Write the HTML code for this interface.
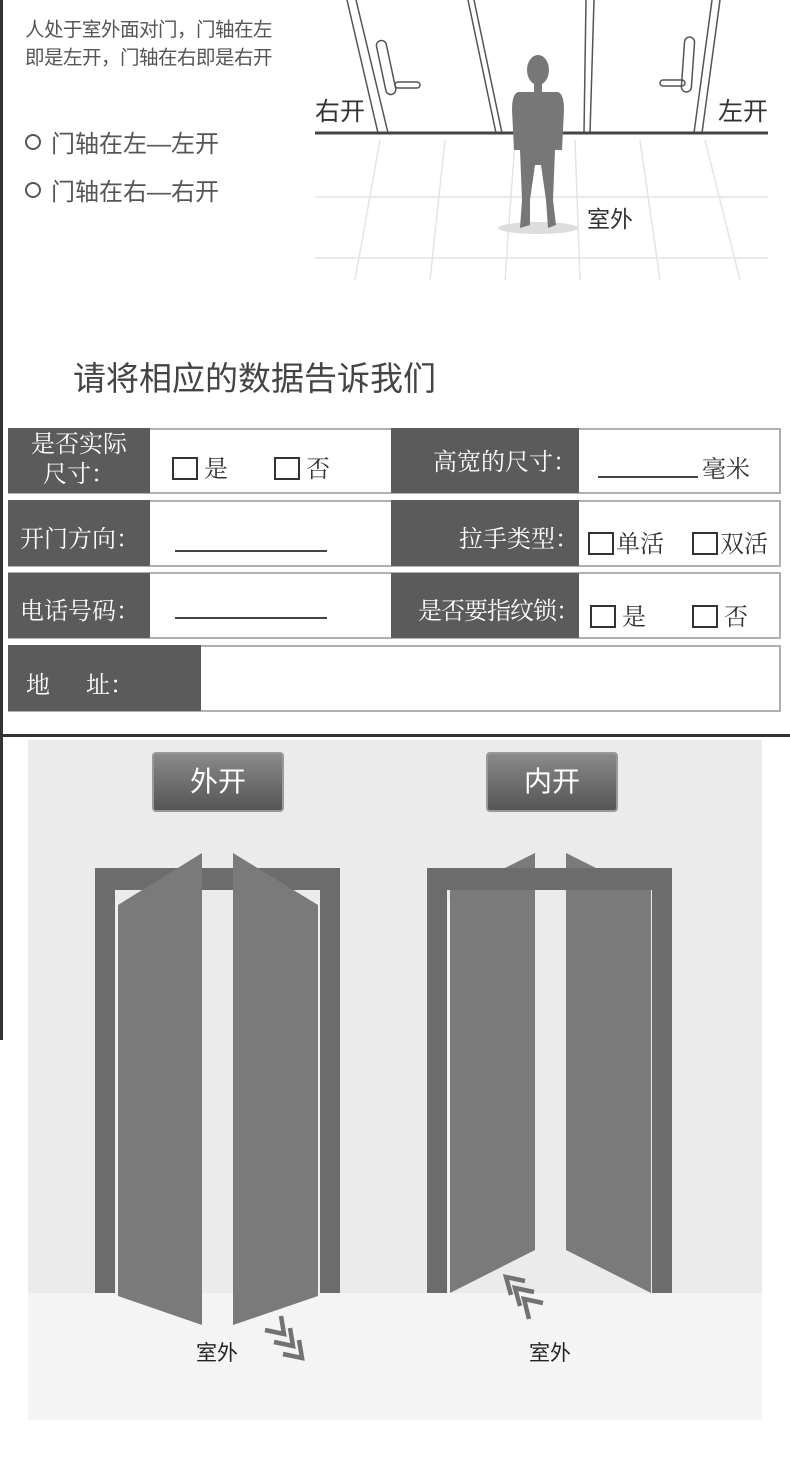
<!DOCTYPE html>
<html><head><meta charset="utf-8"><style>
body{margin:0;width:790px;height:1464px;position:relative;background:#fff;overflow:hidden;font-family:"Liberation Sans","Noto Sans CJK SC",sans-serif}
.a{position:absolute;white-space:nowrap}
.d{position:absolute;background:#5b5b5b;color:#fff;font-family:"Liberation Serif","Noto Serif CJK SC",serif;font-size:24px}
.w{position:absolute;background:#fff;border:2px solid #b0b0b0;box-sizing:border-box}
.s{font-family:"Liberation Serif","Noto Serif CJK SC",serif;font-size:24px;color:#333}
.cb{display:inline-block;width:26px;height:23px;border:2px solid #333;box-sizing:border-box;vertical-align:-3px;margin-right:6px}
.ln{position:absolute;height:2px;background:#444}
</style></head><body>
<div class="a" style="left:0;top:0;width:3px;height:1040px;background:#333"></div>
<div class="a" style="left:25px;top:16px;font-size:19.5px;color:#555;line-height:28px;letter-spacing:-0.5px">人处于室外面对门，门轴在左<br>即是左开，门轴在右即是右开</div>
<div class="a" style="left:25px;top:124px;font-size:24px;color:#555"><span style="display:inline-block;width:12px;height:12px;border:2px solid #555;border-radius:50%;margin-right:10px;vertical-align:2px"></span>门轴在左—左开</div>
<div class="a" style="left:25px;top:172px;font-size:24px;color:#555"><span style="display:inline-block;width:12px;height:12px;border:2px solid #555;border-radius:50%;margin-right:10px;vertical-align:2px"></span>门轴在右—右开</div>
<svg class="a" style="left:0;top:0" width="790" height="300">
<g stroke="#e4e4e4" stroke-width="1.5" fill="none">
<line x1="380" y1="140" x2="355" y2="280"/><line x1="445" y1="140" x2="430" y2="280"/><line x1="515" y1="140" x2="505" y2="280"/><line x1="575" y1="140" x2="580" y2="280"/><line x1="640" y1="140" x2="660" y2="280"/><line x1="705" y1="140" x2="740" y2="280"/>
<line x1="315" y1="197" x2="768" y2="197"/><line x1="315" y1="258" x2="768" y2="258"/></g>
<g stroke="#555" stroke-width="1.5" fill="none">
<line x1="347" y1="0" x2="378" y2="133"/><line x1="356" y1="0" x2="388" y2="133"/>
<line x1="468" y1="0" x2="496" y2="133"/><line x1="474" y1="0" x2="502" y2="133"/>
<line x1="586" y1="0" x2="584" y2="133"/><line x1="594" y1="0" x2="590" y2="133"/>
<line x1="712" y1="0" x2="694" y2="133"/><line x1="720" y1="0" x2="702" y2="133"/>
<rect x="381" y="40" width="10" height="55" rx="5" transform="rotate(-12 386 67)"/><rect x="395" y="82" width="25" height="6" rx="3"/>
<rect x="683" y="37" width="10" height="55" rx="5" transform="rotate(4 688 64)"/><rect x="660" y="80" width="25" height="6" rx="3"/></g>
<line x1="315" y1="133" x2="768" y2="133" stroke="#444" stroke-width="3"/>
<ellipse cx="538" cy="228" rx="40" ry="6" fill="#ddd"/>
<g fill="#777"><ellipse cx="538" cy="70" rx="11" ry="15"/><rect x="534" y="80" width="8" height="12"/>
<path d="M518 92 L558 92 Q564 94 564 110 L562 150 L555 150 L553 200 L556 225 L548 228 L546 200 L541 165 L535 165 L530 200 L530 225 L520 228 L522 200 L520 150 L514 150 L512 110 Q512 94 518 92Z"/></g>
</svg>
<div class="a" style="left:315px;top:92px;font-size:25px;color:#333">右开</div>
<div class="a" style="left:718px;top:92px;font-size:25px;color:#333">左开</div>
<div class="a" style="left:587px;top:200px;font-size:23px;color:#333">室外</div>
<div class="a" style="left:73px;top:352px;font-size:33px;color:#444">请将相应的数据告诉我们</div>

<div class="w" style="left:8px;top:428px;width:773px;height:66px"></div>
<div class="w" style="left:8px;top:500px;width:773px;height:67px"></div>
<div class="w" style="left:8px;top:572px;width:773px;height:67px"></div>
<div class="w" style="left:8px;top:645px;width:773px;height:67px"></div>
<div class="d" style="left:8px;top:428px;width:142px;height:65px;text-align:center;line-height:30px;padding-top:2px;box-sizing:border-box">是否实际<br>尺寸：</div>
<div class="d" style="left:391px;top:428px;width:188px;height:65px;line-height:70px;text-align:right;padding-right:2px;box-sizing:border-box">高宽的尺寸：</div>
<div class="d" style="left:8px;top:500px;width:142px;height:66px;line-height:80px;padding-left:12px;box-sizing:border-box">开门方向：</div>
<div class="d" style="left:391px;top:500px;width:188px;height:66px;line-height:80px;text-align:right;padding-right:0;box-sizing:border-box">拉手类型：</div>
<div class="d" style="left:8px;top:573px;width:142px;height:65px;line-height:78px;padding-left:12px;box-sizing:border-box">电话号码：</div>
<div class="d" style="left:391px;top:573px;width:188px;height:65px;line-height:78px;text-align:right;padding-right:0;box-sizing:border-box;letter-spacing:-1px">是否要指纹锁：</div>
<div class="d" style="left:8px;top:645px;width:193px;height:66px;line-height:82px;padding-left:18px;box-sizing:border-box">地&nbsp;&nbsp;&nbsp;&nbsp;&nbsp;&nbsp;址：</div>
<div class="a s" style="left:172px;top:449px"><span class="cb"></span>是</div>
<div class="a s" style="left:274px;top:449px"><span class="cb"></span>否</div>
<div class="ln" style="left:598px;top:476px;width:100px"></div>
<div class="a s" style="left:702px;top:449px">毫米</div>
<div class="ln" style="left:175px;top:550px;width:152px"></div>
<div class="a s" style="left:588px;top:524px"><span class="cb" style="margin-right:2px"></span>单活</div>
<div class="a s" style="left:692px;top:524px"><span class="cb" style="margin-right:2px"></span>双活</div>
<div class="ln" style="left:175px;top:617px;width:152px"></div>
<div class="a s" style="left:590px;top:597px"><span class="cb"></span>是</div>
<div class="a s" style="left:692px;top:597px"><span class="cb"></span>否</div>
<div class="a" style="left:0;top:734px;width:790px;height:3px;background:#333"></div>

<div class="a" style="left:28px;top:740px;width:734px;height:555px;background:#ebebeb"></div>
<div class="a" style="left:28px;top:1293px;width:734px;height:127px;background:#f4f4f4"></div>
<div class="a" style="left:152px;top:752px;width:132px;height:60px;border-radius:4px;background:linear-gradient(#8a8a8a,#555);border:2px solid #999;box-sizing:border-box;color:#fff;font-size:28px;text-align:center;line-height:56px">外开</div>
<div class="a" style="left:486px;top:752px;width:132px;height:60px;border-radius:4px;background:linear-gradient(#8a8a8a,#555);border:2px solid #999;box-sizing:border-box;color:#fff;font-size:28px;text-align:center;line-height:56px">内开</div>
<svg class="a" style="left:0;top:740px" width="790" height="724">
<g fill="#6c6c6c">
<path d="M95 128 H340 V553 H320 V150 H115 V553 H95Z"/>
<path d="M427 128 H672 V553 H652 V150 H447 V553 H427Z"/></g>
<g stroke="#f4f4f4" stroke-width="1.5">
<line x1="117" y1="160" x2="117" y2="553"/><line x1="318" y1="160" x2="318" y2="553"/>
<line x1="449" y1="160" x2="449" y2="553"/><line x1="650" y1="160" x2="650" y2="553"/></g>
<g fill="#7a7a7a">
<path d="M118 165 L202 113 L202 585 L118 556Z"/>
<path d="M233 113 L318 165 L318 556 L233 585Z"/>
<path d="M450 150 L535 150 L535 510 L450 553Z"/>
<path d="M566 150 L651 150 L651 553 L566 510Z"/>
<path d="M505 128 L535 113 L535 128Z"/><path d="M566 113 L596 128 L566 128Z"/></g>
<g fill="none" stroke="#727272" stroke-width="4.5" stroke-linejoin="miter">
<path d="M281 576 L284 594 L265 590"/><path d="M290 588 L293 606 L274 602"/><path d="M299 600 L302 618 L283 614"/>
<path d="M525 541 L506 537 L511 555"/><path d="M534 552 L515 548 L520 566"/><path d="M543 563 L524 559 L529 579"/></g>
</svg>
<div class="a" style="left:196px;top:1337px;font-size:21px;color:#222">室外</div>
<div class="a" style="left:529px;top:1337px;font-size:21px;color:#222">室外</div>
</body></html>
